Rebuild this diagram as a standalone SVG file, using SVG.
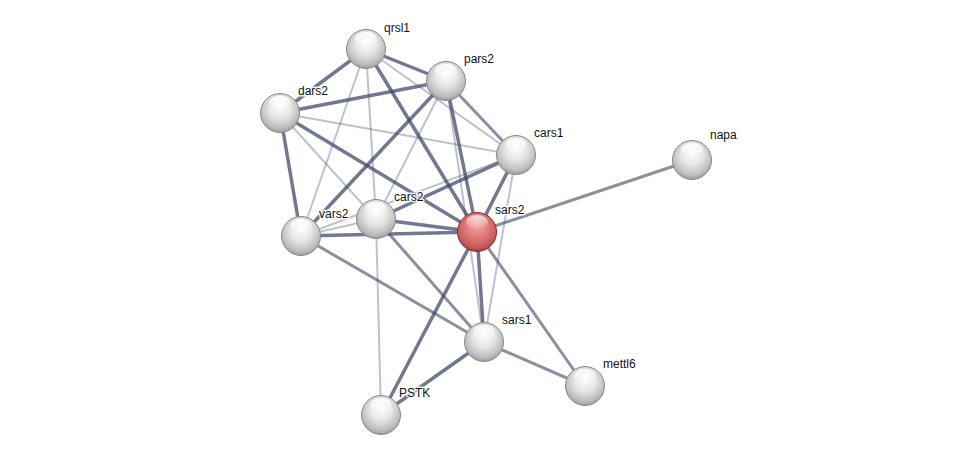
<svg xmlns="http://www.w3.org/2000/svg" width="976" height="460" viewBox="0 0 976 460">
<defs>
<radialGradient id="g" cx="0.5" cy="0.42" r="0.62" fx="0.5" fy="0.3">
<stop offset="0" stop-color="#ffffff"/>
<stop offset="0.45" stop-color="#e6e6e6"/>
<stop offset="0.8" stop-color="#bdbdbd"/>
<stop offset="1" stop-color="#8e8e8e"/>
</radialGradient>
<radialGradient id="r" cx="0.5" cy="0.42" r="0.62" fx="0.5" fy="0.3">
<stop offset="0" stop-color="#f4a8a8"/>
<stop offset="0.45" stop-color="#e07c7c"/>
<stop offset="0.8" stop-color="#c95a5a"/>
<stop offset="1" stop-color="#982e2e"/>
</radialGradient>
<linearGradient id="hl" x1="0" y1="0" x2="0" y2="1">
<stop offset="0" stop-color="#ffffff" stop-opacity="0.95"/>
<stop offset="1" stop-color="#ffffff" stop-opacity="0"/>
</linearGradient>
<g id="node">
<circle r="19.5" fill="url(#g)" stroke="#8a8a8a" stroke-width="1"/>
<ellipse cx="0" cy="-10" rx="11" ry="7" fill="url(#hl)"/>
</g>
<g id="rnode">
<circle r="19.5" fill="url(#r)" stroke="#8e2a2a" stroke-width="1"/>
<ellipse cx="0" cy="-10" rx="11" ry="7" fill="url(#hl)" opacity="0.8"/>
</g>
</defs>
<style>
.e{stroke:#3d4466;fill:none;stroke-linecap:round}
.t{stroke-width:3.5;stroke-opacity:0.72}
.m{stroke-width:3;stroke-opacity:0.6}
.l{stroke-width:2;stroke-opacity:0.33}
text{font-family:"Liberation Sans",Arial,sans-serif;font-size:12px;fill:#111;stroke:#ffffff;stroke-width:3;stroke-opacity:0.85;paint-order:stroke;stroke-linejoin:round}
</style>
<rect width="976" height="460" fill="#ffffff"/>
<g id="connectors">
<line class="e l" x1="366" y1="49" x2="516" y2="155"/>
<line class="e l" x1="280" y1="113" x2="516" y2="155"/>
<line class="e l" x1="280" y1="113" x2="376" y2="219"/>
<line class="e l" x1="446" y1="81" x2="376" y2="219"/>
<line class="e l" x1="446" y1="81" x2="484" y2="342"/>
<line class="e l" x1="516" y1="155" x2="301" y2="236"/>
<line class="e l" x1="516" y1="155" x2="484" y2="342"/>
<line class="e l" x1="376" y1="219" x2="381" y2="415"/>
<line class="e l" x1="301" y1="236" x2="376" y2="219"/>
<line class="e l" x1="366" y1="49" x2="376" y2="219"/>
<line class="e l" x1="366" y1="49" x2="301" y2="236"/>
<line class="e m" x1="446" y1="81" x2="516" y2="155"/>
<line class="e m" x1="477" y1="232" x2="692" y2="160"/>
<line class="e m" x1="477" y1="232" x2="585" y2="386"/>
<line class="e m" x1="484" y1="342" x2="585" y2="386"/>
<line class="e m" x1="301" y1="236" x2="484" y2="342"/>
<line class="e m" x1="376" y1="219" x2="484" y2="342"/>
<line class="e t" x1="366" y1="49" x2="280" y2="113"/>
<line class="e t" x1="366" y1="49" x2="446" y2="81"/>
<line class="e t" x1="366" y1="49" x2="477" y2="232"/>
<line class="e t" x1="280" y1="113" x2="446" y2="81"/>
<line class="e t" x1="280" y1="113" x2="301" y2="236"/>
<line class="e t" x1="280" y1="113" x2="477" y2="232"/>
<line class="e t" x1="446" y1="81" x2="301" y2="236"/>
<line class="e t" x1="446" y1="81" x2="477" y2="232"/>
<line class="e t" x1="516" y1="155" x2="376" y2="219"/>
<line class="e t" x1="516" y1="155" x2="477" y2="232"/>
<line class="e t" x1="301" y1="236" x2="477" y2="232"/>
<line class="e t" x1="376" y1="219" x2="477" y2="232"/>
<line class="e t" x1="477" y1="232" x2="484" y2="342"/>
<line class="e t" x1="477" y1="232" x2="381" y2="415"/>
<line class="e t" x1="484" y1="342" x2="381" y2="415"/>
</g>
<g id="qrsl1"><use href="#node" x="366" y="49"/><text x="384" y="32">qrsl1</text></g>
<g id="pars2"><use href="#node" x="446" y="81"/><text x="464" y="63">pars2</text></g>
<g id="dars2"><use href="#node" x="280" y="113"/><text x="298" y="95">dars2</text></g>
<g id="cars1"><use href="#node" x="516" y="155"/><text x="534" y="137">cars1</text></g>
<g id="napa"><use href="#node" x="692" y="160"/><text x="710" y="139">napa</text></g>
<g id="vars2"><use href="#node" x="301" y="236"/><text x="319" y="218">vars2</text></g>
<g id="cars2"><use href="#node" x="376" y="219"/><text x="394" y="201">cars2</text></g>
<g id="sars2"><use href="#rnode" x="477" y="232"/><text x="495" y="214">sars2</text></g>
<g id="sars1"><use href="#node" x="484" y="342"/><text x="502" y="324">sars1</text></g>
<g id="mettl6"><use href="#node" x="585" y="386"/><text x="603" y="368">mettl6</text></g>
<g id="PSTK"><use href="#node" x="381" y="415"/><text x="399" y="397">PSTK</text></g>
</svg>
